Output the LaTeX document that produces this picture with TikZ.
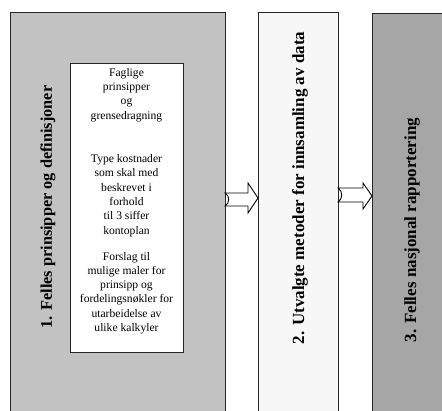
\documentclass[tikz,border=0pt]{standalone}
\usepackage{fontspec}
\setmainfont{Liberation Serif}
\begin{document}
\begin{tikzpicture}[x=1pt,y=-1pt,
  phase/.style={draw=black!85,line width=0.9pt},
  title/.style={font=\bfseries\fontsize{17}{19}\selectfont,rotate=90,inner sep=0pt},
  body/.style={font=\fontsize{11.6}{14.3}\selectfont,align=center,inner sep=0pt},
  blockarrow/.style={draw=black,fill=white,line width=0.9pt,line join=miter}]
\useasboundingbox (0,0) rectangle (442,410);
\clip (0,0) rectangle (442,410);
\definecolor{stippleA}{HTML}{C2C2C2}
\definecolor{stippleB}{HTML}{F7F7F7}
\definecolor{stippleC}{HTML}{A6A6A6}

% three phase columns
\draw[phase,fill=stippleA] (10,12) rectangle (225,420);
\draw[phase,fill=stippleB] (258,12) rectangle (338,420);
\draw[phase,fill=stippleC] (372,13) rectangle (450,420);

\node[title,font=\bfseries\fontsize{16.3}{19}\selectfont] (p1) at (48,207) {1. Felles prinsipper og definisjoner};
\node[title] (p2) at (300,188) {2. Utvalgte metoder for innsamling av data};
\node[title] (p3) at (412,230) {3. Felles nasjonal rapportering};

% inner box of column 1
\node[draw=black!85,line width=0.9pt,fill=white,minimum width=113pt,minimum height=289pt,inner sep=0pt] (inner) at (126.5,207.5) {};
\node[body] (t1) at (126.5,95) {Faglige\\prinsipper\\og\\grensedragning};
\node[body] (t2) at (126.5,195.5) {Type kostnader\\som skal med\\beskrevet i\\forhold\\til 3 siffer\\kontoplan};
\node[body] (t3) at (126.5,293) {Forslag til\\mulige maler for\\prinsipp og\\fordelingsnøkler for\\utarbeidelse av\\ulike kalkyler};

% notched block arrows between the columns
\coordinate (a1) at (225,199.5);
\coordinate (a2) at (338,195);
\draw[blockarrow] (225,193) -- (248,193) -- (248,183) -- (258,198) -- (248,213) -- (248,206) -- (225,206)
  .. controls (230,203) and (230,196) .. cycle;
\draw[blockarrow] (338,188) -- (363,188) -- (363,183) -- (372,196) -- (363,209) -- (363,202) -- (338,202)
  .. controls (343,199) and (343,191) .. cycle;
\end{tikzpicture}
\end{document}
